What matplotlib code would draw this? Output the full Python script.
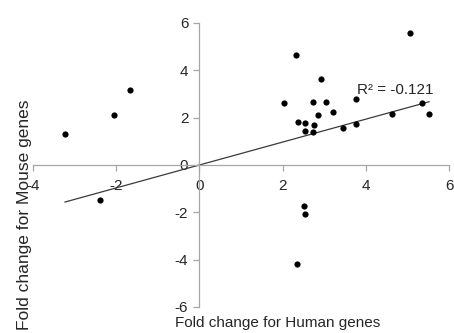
import matplotlib
matplotlib.use("Agg")
import matplotlib.pyplot as plt
import numpy as np

plt.rcParams['font.family'] = ['Liberation Sans', 'DejaVu Sans']

human = [-3.23, -2.06, -1.68, -2.40, 2.32, 5.07, 2.93, 2.04, 2.74, 3.04, 3.76, 5.34, 5.52,
         4.62, 3.21, 2.84, 2.36, 2.55, 2.75, 2.55, 2.72, 3.44, 3.77, 2.52, 2.55, 2.34]
mouse = [1.33, 2.13, 3.18, -1.49, 4.64, 5.59, 3.62, 2.60, 2.67, 2.67, 2.78, 2.64, 2.17,
         2.14, 2.24, 2.11, 1.80, 1.77, 1.67, 1.45, 1.40, 1.56, 1.74, -1.74, -2.06, -4.18]
x_ticks = [-4, -2, 0, 2, 4, 6]
y_ticks = [-6, -4, -2, 0, 2, 4, 6]
r2_label = "R² = -0.121"
x_title = "Fold change for Human genes"
y_title = "Fold change for Mouse genes"

hx = np.array(human)
my = np.array(mouse)
slope = np.sum(hx * my) / np.sum(hx * hx)  # trendline through origin

fig = plt.figure(figsize=(4.54, 3.33), dpi=100)
ax = fig.add_axes([33/454, 1 - 307/333, 416/454, 284/333])

ax.scatter(hx, my, s=20, color='black', zorder=3, linewidths=0)
xs = np.array([hx.min(), hx.max()])
ax.plot(xs, slope * xs, color='#3a3a3a', lw=0.9, zorder=2)

ax.set_xlim(-4, 6)
ax.set_ylim(-6, 6)
ax.set_xticks(x_ticks)
ax.set_yticks(y_ticks)
ax.set_xticklabels([str(t) for t in x_ticks])
ax.set_yticklabels([str(t) for t in y_ticks])

for s in ['top', 'right']:
    ax.spines[s].set_visible(False)
ax.spines['left'].set_position(('data', 0))
ax.spines['bottom'].set_position(('data', 0))
for s in ['left', 'bottom']:
    ax.spines[s].set_color('#a6a6a6')
    ax.spines[s].set_linewidth(0.9)
ax.tick_params(axis='both', colors='#a6a6a6', labelcolor='#262626', labelsize=11,
               length=4, width=0.9, direction='out')
ax.tick_params(axis='x', pad=6)
ax.tick_params(axis='y', pad=4)
ax.patch.set_alpha(0)

ax.text(3.8, 3.19, r2_label, fontsize=11, color='#262626', ha='left', va='center')

fig.text(278/454, 1 - 323/333, x_title, fontsize=11, color='#262626', ha='center', va='center')
fig.text(25/454, 1 - 215/333, y_title, fontsize=12.5, color='#262626', ha='center', va='center',
         rotation=90)

fig.savefig('out.png', dpi=100)
